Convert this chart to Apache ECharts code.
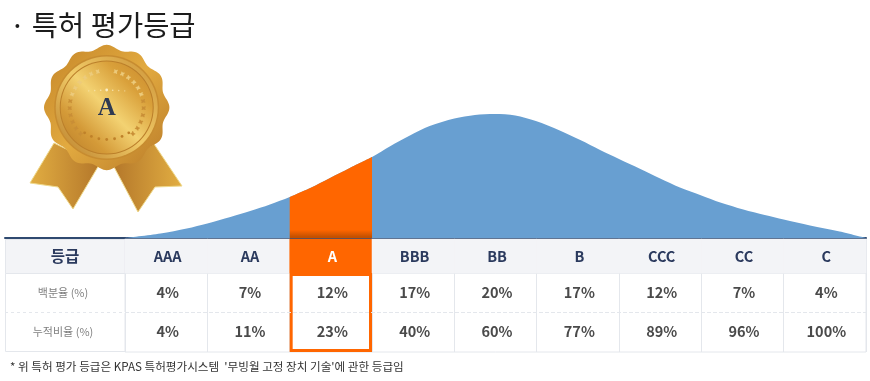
<!DOCTYPE html>
<html><head><meta charset="utf-8">
<style>html,body{margin:0;padding:0;background:#fff}#c{width:870px;height:381px}</style>
<script src="https://cdn.jsdelivr.net/npm/echarts@6/dist/echarts.min.js"></script>
</head><body><div id="c"></div>
<script>
const grades = ['AAA','AA','A','BBB','BB','B','CCC','CC','C'];
const percent = [4,7,12,17,20,17,12,7,4];
const cumulative = [4,11,23,40,60,77,89,96,100];
const rowNames = ['누적비율 (%)','백분율 (%)'];
const headerName = '등급';
const highlight = 'A';
const curveX = [0,0.43,0.75,1,1.28,1.52,1.76,2,2.25,2.49,2.73,3,3.22,3.46,3.7,4,4.25,4.49,4.74,4.99,5.28,5.53,5.77,6,6.26,6.5,6.74,7,7.23,7.51,7.77,8,8.32,8.68,9];
const curveH = [0,3.6,7.6,11.6,16.8,21.6,26.8,32.8,40,48,56,64.8,73.4,82,89.6,95.6,98.4,99.2,98,93.6,86,78.4,70.4,63.2,55.2,47.6,40.4,34,28.4,22.8,18.4,14.8,10,5.2,0];
const titleText = '· 특허 평가등급';
const noteText = "* 위 특허 평가 등급은 KPAS 특허평가시스템  '무빙월 고정 장치 기술'에 관한 등급임";

const FONT = '"Noto Sans CJK KR","Noto Sans",sans-serif';
const NAVY = '#2b3a5e', LINE = '#e4e7ec', ORANGE = '#ff6600', BLUE = '#689fd1';
const curve = curveX.map((x,i)=>[x,curveH[i]]);
const hi = grades.indexOf(highlight);
const orangeCurve = curve.filter(p=>p[0]>=hi && p[0]<=hi+1);

function diag(stops){return {type:'linear',x:1,y:0,x2:0,y2:1,colorStops:stops.map((c,i)=>({offset:i/(stops.length-1),color:c}))};}
function medal(){
  const cx=106.7, cy=107.5, els=[];
  const ribbon=(pts,flip)=>({type:'polygon',z:3,shape:{points:pts},style:{
    fill:{type:'linear',x:flip?1:0,y:0,x2:flip?0:1,y2:0,colorStops:[{offset:0,color:'#e2ae42'},{offset:1,color:'#b4772a'}]},
    stroke:'#efd98c',lineWidth:1}});
  els.push(ribbon([[54,143],[30,183],[58,187],[73,209],[99,165]],false));
  els.push(ribbon([[154,144],[182,186],[155,187],[138,212],[113,165]],true));
  const pts=[];
  for(let i=0;i<240;i++){const t=i/240*2*Math.PI;const r=60.5+2.2*Math.cos(12*t);pts.push([cx+r*Math.sin(t),cy-r*Math.cos(t)]);}
  els.push({type:'polygon',z:4,shape:{points:pts},style:{fill:{type:'linear',x:0,y:0,x2:1,y2:1,colorStops:[{offset:0,color:'#c48528'},{offset:.5,color:'#e2aa40'},{offset:1,color:'#b87a28'}]}}});
  els.push({type:'circle',z:5,shape:{cx,cy,r:52.5},style:{fill:'#c78c30'}});
  els.push({type:'circle',z:5,shape:{cx,cy,r:51},style:{fill:diag(['#c98f34','#f1cb68','#b87c28'])}});
  els.push({type:'circle',z:5,shape:{cx,cy,r:47},style:{fill:'#bb7f2a'}});
  els.push({type:'circle',z:5,shape:{cx,cy,r:46},style:{fill:diag(['#c9892c','#d9a03a','#f3d272','#d49a38','#b87c28'])}});
  for(const side of [-1,1]){
    for(let a=14;a<=135;a+=11){
      const t=a*Math.PI/180, x=cx+side*37*Math.sin(t), y=cy-37*Math.cos(t);
      for(const d of [-1,1]){
        els.push({type:'ellipse',z:6,x:x,y:y,rotation:-side*(t+d*0.7+Math.PI/2),
          shape:{cx:0,cy:0,rx:2.6,ry:1},style:{fill:a<70?'#eccb7c':'#c98e36',opacity:.9}});
      }
    }
  }
  for(let i=-3;i<=3;i++){
    els.push({type:'circle',z:6,shape:{cx:cx+i*6,cy:90+Math.abs(i)*.3,r:i===0?1.4:.8},style:{fill:'#fbeec4',opacity:1-Math.abs(i)*.2}});
    const t=i*0.22;
    els.push({type:'circle',z:6,shape:{cx:cx+36*Math.sin(t),cy:cy+32*Math.cos(t),r:1.4},style:{fill:'#bf8129'}});
  }
  els.push({type:'text',z:7,x:cx,y:cy+1.5,style:{text:'A',font:'bold 25px "Liberation Serif",serif',fill:'#2f3a52',align:'center',verticalAlign:'middle'}});
  return els;
}
const chart = echarts.init(document.getElementById('c'),null,{renderer:'canvas'});
const cell=(extra)=>Object.assign({left:125,right:4},extra);
const leftCol=(y,h,fill)=>({type:'rect',z:0,silent:true,shape:{x:5.5,y,width:119.5,height:h},style:{fill,stroke:LINE,lineWidth:1}});
chart.setOption({
  animation:false,
  backgroundColor:'#fff',
  title:[
    {text:titleText,left:9.5,top:11,padding:0,textStyle:{fontFamily:FONT,fontSize:28.5,fontWeight:'normal',color:'#1c1c1c'}},
    {text:noteText,left:10,top:361,padding:0,textStyle:{fontFamily:FONT,fontSize:11.6,fontWeight:'normal',color:'#333'}}
  ],
  grid:[
    {left:5,right:4,top:113,bottom:143},
    cell({top:239,bottom:108,show:true,borderColor:LINE,borderWidth:1}),
    cell({top:273,bottom:29,show:true,borderColor:LINE,borderWidth:1})
  ],
  xAxis:[
    {type:'value',gridIndex:0,min:-1.458,max:9,z:1,splitLine:{show:false},axisTick:{show:false},axisLabel:{show:false},
     axisLine:{show:true,onZero:false,lineStyle:{color:'#2f4a70',width:2}}},
    {type:'category',gridIndex:1,data:grades,axisLine:{show:false},axisTick:{show:false},axisLabel:{show:false},splitLine:{show:true,lineStyle:{color:LINE}}},
    {type:'category',gridIndex:2,data:grades,axisLine:{show:false},axisTick:{show:false},axisLabel:{show:false},splitLine:{show:true,lineStyle:{color:LINE}}}
  ],
  yAxis:[
    {type:'value',gridIndex:0,min:0,max:100,show:false},
    {type:'category',gridIndex:1,data:[headerName],axisLine:{show:false},axisTick:{show:false},z:6,
     axisLabel:{margin:60,align:'center',fontFamily:FONT,fontSize:15.5,fontWeight:'bold',color:NAVY}},
    {type:'category',gridIndex:2,data:rowNames,axisLine:{show:false},axisTick:{show:false},z:6,
     splitLine:{show:true,showMinLine:false,showMaxLine:false,lineStyle:{color:LINE,type:'dashed'}},
     axisLabel:{margin:62,align:'center',fontFamily:FONT,fontSize:11,color:'#808080'}}
  ],
  graphic:{elements:[
    leftCol(239.5,34,'#f3f4f7'),leftCol(273.5,39,'#fff'),leftCol(312.5,39,'#fff'),
    {type:'line',z:1,silent:true,shape:{x1:5,y1:312.5,x2:125,y2:312.5},style:{stroke:'#fff',lineWidth:1.2}},
    {type:'line',z:1,silent:true,shape:{x1:5,y1:312.5,x2:125,y2:312.5},style:{stroke:LINE,lineWidth:1,lineDash:[3,3]}},
    ...medal()
  ]},
  series:[
    {type:'line',xAxisIndex:0,yAxisIndex:0,z:3,data:curve,smooth:.3,symbol:'none',lineStyle:{width:0},areaStyle:{color:BLUE,opacity:1}},
    {type:'line',xAxisIndex:0,yAxisIndex:0,z:4,data:orangeCurve,smooth:.3,symbol:'none',lineStyle:{width:0},
     areaStyle:{opacity:1,color:{type:'linear',x:0,y:0,x2:0,y2:1,colorStops:[{offset:0,color:ORANGE},{offset:.9,color:ORANGE},{offset:.985,color:'#c45000'},{offset:1,color:'#c45000'}]}}},
    {type:'heatmap',xAxisIndex:1,yAxisIndex:1,z:2,
     data:grades.map((g,i)=>({name:g,value:[i,0,1],itemStyle:{color:i===hi?ORANGE:'#f3f4f7'},label:{color:i===hi?'#fff':NAVY}})),
     label:{show:true,offset:[1.5,0],formatter:p=>p.name,fontFamily:FONT,fontSize:14.5,fontWeight:'bold',color:NAVY},
     itemStyle:{borderWidth:0}},
    {type:'heatmap',xAxisIndex:2,yAxisIndex:2,z:2,
     data:[...percent.map((v,i)=>({value:[i,1,v]})),...cumulative.map((v,i)=>({value:[i,0,v]}))],
     label:{show:true,offset:[1.5,-0.5],formatter:p=>p.value[2]+'%',fontFamily:FONT,fontSize:14.5,fontWeight:'bold',color:'#4a4a4a'},
     itemStyle:{color:'rgba(255,255,255,0)'}},
    {type:'custom',xAxisIndex:2,yAxisIndex:2,z:5,silent:true,data:[[hi]],encode:{x:0},
     renderItem:(params,api)=>{
       const c=api.coord([api.value(0),0]), s=api.size([1,1]);
       return {type:'rect',shape:{x:c[0]-s[0]/2+1.5,y:c[1]-s[1]*1.5+1.5,width:s[0]-3,height:s[1]*2-3},
         style:{fill:'none',stroke:ORANGE,lineWidth:3}};
     }}
  ]
});
</script></body></html>
